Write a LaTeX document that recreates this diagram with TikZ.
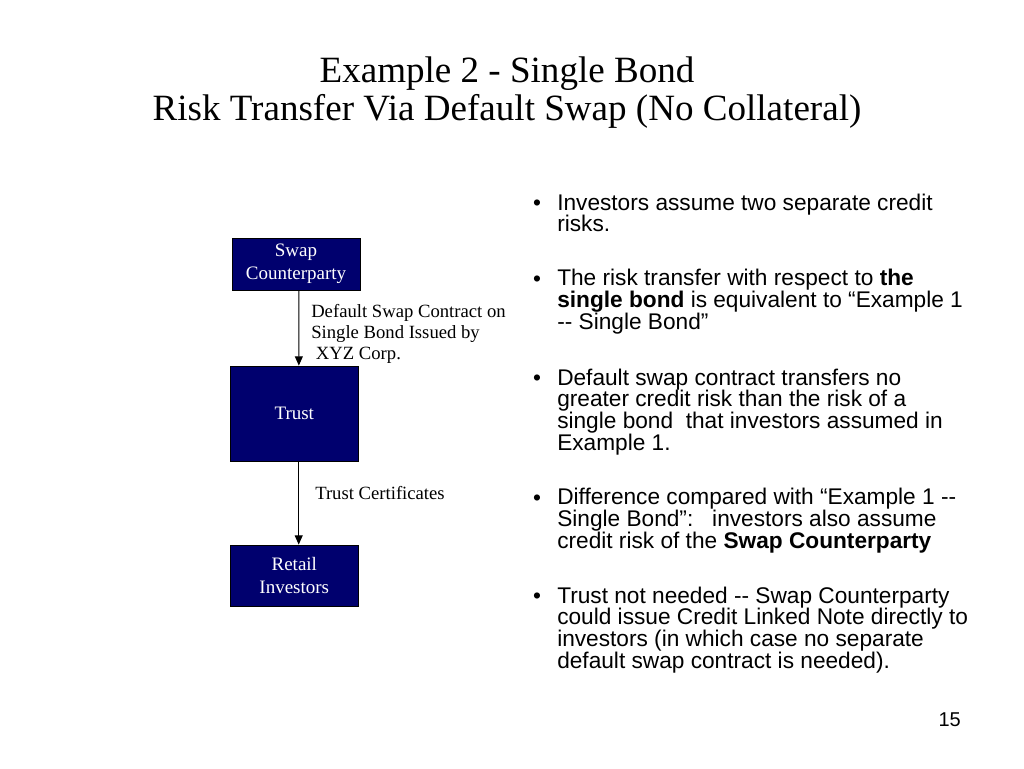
\documentclass[tikz,border=0pt]{standalone}
\usepackage{fontspec}
\setmainfont{Liberation Serif}
\newfontfamily\arialf{Liberation Sans}
\usetikzlibrary{arrows.meta}
\definecolor{navybox}{RGB}{0,0,110}
\tikzset{
  box/.style={draw=black, line width=0.6pt, fill=navybox, text=white, align=center,
    minimum width=96pt, inner sep=0pt, font=\fontsize{14.25}{17.25}\selectfont},
  arr/.style={line width=0.8pt, -{Triangle[length=7pt,width=6pt]}},
  lbl/.style={anchor=base west, align=left, inner sep=0pt, font=\fontsize{14}{15.75}\selectfont},
  bul/.style={anchor=base west, align=left, inner sep=0pt, font=\arialf\fontsize{17}{16.25}\selectfont},
  dot/.style={anchor=base, inner sep=0pt, font=\arialf\fontsize{17}{16.25}\selectfont},
  ttl/.style={anchor=base, inner sep=0pt, font=\fontsize{27.8}{30}\selectfont}
}
\begin{document}
\begin{tikzpicture}[x=0.75pt,y=-0.75pt]
\useasboundingbox (0,0) rectangle (1024,768);
% title
\node[ttl] (t1) at (507,82) {Example 2 - Single Bond};
\node[ttl] (t2) at (507,120) {Risk Transfer Via Default Swap (No Collateral)};
% boxes
\node[box, minimum height=39pt] (swap) at (296,264) {Swap\\Counterparty};
\node[box, minimum height=71.25pt] (trust) at (294.3,413.5) {Trust};
\node[box, minimum height=45.75pt] (retail) at (294.3,575.5) {Retail\\Investors};
% arrows
\draw[arr] ([xshift=2.2pt]swap.south) -- ([xshift=3.4pt]trust.north);
\draw[arr] ([xshift=3.3pt]trust.south) -- ([xshift=3.3pt]retail.north);
% labels (anchor at baseline of last line)
\node[lbl] (l1) at (311,359.5) {Default Swap Contract on\\Single Bond Issued by\\\ XYZ Corp.};
\node[lbl] (l2) at (315,499) {Trust Certificates};
% bullets (anchor at baseline of last line)
\node[dot] (d1) at (537,210) {•};
\node[bul] (b1) at (557,231.7) {Investors assume two separate credit\\risks.};
\node[dot] (d2) at (537,286) {•};
\node[bul] (b2) at (557,329.3) {The risk transfer with respect to \textbf{the}\\\textbf{single bond} is equivalent to “Example 1\\-- Single Bond”};
\node[dot] (d3) at (537,385) {•};
\node[bul] (b3) at (557,450) {Default swap contract transfers no\\greater credit risk than the risk of a\\single bond\ \ that investors assumed in\\Example 1.};
\node[dot] (d4) at (537,505) {•};
\node[bul] (b4) at (557,548.3) {Difference compared with “Example 1 --\\Single Bond”:\ \ \ investors also assume\\credit risk of the \textbf{Swap Counterparty}};
\node[dot] (d5) at (537,603.3) {•};
\node[bul] (b5) at (557,668.3) {Trust not needed -- Swap Counterparty\\could issue Credit Linked Note directly to\\investors (in which case no separate\\default swap contract is needed).};
% page number
\node[anchor=base east, inner sep=0pt, font=\arialf\fontsize{15}{18}\selectfont] (pg) at (961,726) {15};
\end{tikzpicture}
\end{document}
